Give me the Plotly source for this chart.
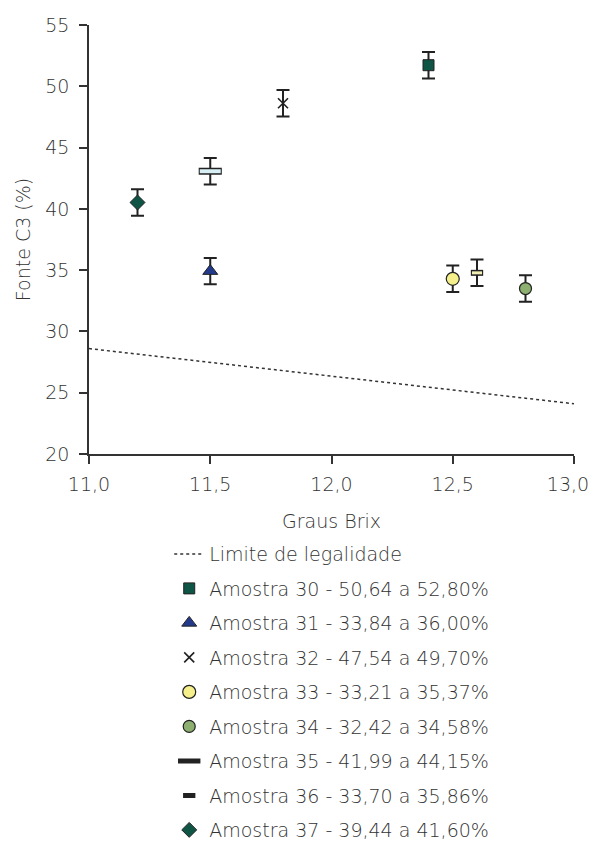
import plotly.graph_objects as go

# ---- data ----
sample_names = [
    "Amostra 30 - 50,64 a 52,80%",
    "Amostra 31 - 33,84 a 36,00%",
    "Amostra 32 - 47,54 a 49,70%",
    "Amostra 33 - 33,21 a 35,37%",
    "Amostra 34 - 32,42 a 34,58%",
    "Amostra 35 - 41,99 a 44,15%",
    "Amostra 36 - 33,70 a 35,86%",
    "Amostra 37 - 39,44 a 41,60%",
]
brix = [12.4, 11.5, 11.8, 12.5, 12.8, 11.5, 12.6, 11.2]
c3 = [51.72, 34.92, 48.62, 34.29, 33.50, 43.07, 34.78, 40.52]
c3_err = [1.08, 1.08, 1.08, 1.08, 1.08, 1.08, 1.08, 1.08]

limit_name = "Limite de legalidade"
limit_x = [11.0, 13.0]
limit_y = [28.6, 24.1]

x_ticks = [11.0, 11.5, 12.0, 12.5, 13.0]
# last label padded with no-break spaces so it stays inside the page edge
x_tick_labels = ["11,0", "11,5", "12,0", "12,5", "13,0\u00a0\u00a0"]
y_ticks = [20, 25, 30, 35, 40, 45, 50, 55]

# ---- styles ----
INK = "#222222"
TXT = "#333333"
FONT = "DejaVu Sans"
styles = [
    dict(symbol="square", size=11, color="#0f5546", line=dict(color=INK, width=1)),
    dict(symbol="triangle-up", size=13, color="#233a8c", line=dict(color=INK, width=1)),
    dict(symbol="x-thin-open", size=10, color=INK, line=dict(color=INK, width=1.6)),
    dict(symbol="circle", size=13, color="#f6f08c", line=dict(color=INK, width=1.2)),
    dict(symbol="circle", size=12, color="#8db070", line=dict(color=INK, width=1.2)),
    "rect_big",
    "rect_small",
    dict(symbol="diamond", size=11.5, color="#0f5546", line=dict(color=INK, width=1)),
]
rect_specs = {
    "rect_big": dict(outer_size=16.5, outer_w=7, inner_size=15, inner_w=4, fill="#d6eef4"),
    "rect_small": dict(outer_size=8.8, outer_w=6, inner_size=7.2, inner_w=3, fill="#f3eeb4"),
}

fig = go.Figure()

fig.add_trace(go.Scatter(
    x=limit_x, y=limit_y, mode="lines", name=limit_name,
    line=dict(color=TXT, width=1.5, dash="dot"),
    legendgroup="lim",
))

for i, name in enumerate(sample_names):
    st = styles[i]
    err = dict(type="data", array=[c3_err[i]], visible=True,
               color=INK, thickness=2, width=6.5)
    if isinstance(st, str):
        rs = rect_specs[st]
        fig.add_trace(go.Scatter(
            x=[brix[i]], y=[c3[i]], mode="markers", name=name,
            legendgroup=f"g{i}", showlegend=True,
            error_y=err,
            marker=dict(symbol="line-ew", size=rs["outer_size"], color=INK,
                        line=dict(color=INK, width=rs["outer_w"])),
        ))
        fig.add_trace(go.Scatter(
            x=[brix[i]], y=[c3[i]], mode="markers", name=name,
            legendgroup=f"g{i}", showlegend=False,
            marker=dict(symbol="line-ew", size=rs["inner_size"], color=rs["fill"],
                        line=dict(color=rs["fill"], width=rs["inner_w"])),
        ))
    else:
        fig.add_trace(go.Scatter(
            x=[brix[i]], y=[c3[i]], mode="markers", name=name,
            legendgroup=f"g{i}", error_y=err, marker=st,
        ))

# page body has an 8px default margin: size and margins below compensate for it
fig.update_layout(
    width=590, height=833,
    margin=dict(l=81, r=24, t=17, b=387, autoexpand=False),
    paper_bgcolor="white", plot_bgcolor="white",
    font=dict(family=FONT, size=19, color=TXT, weight=300),
    showlegend=True,
    legend=dict(
        orientation="v", xref="paper", x=0.1654, xanchor="left",
        yref="container", y=0.3673, yanchor="top",
        font=dict(family=FONT, size=19, color=TXT, weight=300),
        tracegroupgap=6.8, itemwidth=30, bgcolor="rgba(0,0,0,0)",
    ),
)
fig.update_xaxes(
    range=[11, 13], tickmode="array", tickvals=x_ticks, ticktext=x_tick_labels,
    ticks="outside", ticklen=8, tickcolor=TXT, tickwidth=1.5,
    showline=True, linecolor=TXT, linewidth=1.5,
    showgrid=False, zeroline=False, ticklabelstandoff=4,
    ticklabeloverflow="allow",
    title=dict(text="Graus Brix", font=dict(size=19, color=TXT, family=FONT, weight=300), standoff=21),
    tickfont=dict(size=19, color=TXT, family=FONT, weight=300),
)
fig.update_yaxes(
    range=[20, 55], tickvals=y_ticks,
    ticks="outside", ticklen=8, tickcolor=TXT, tickwidth=1.5,
    showline=True, linecolor=TXT, linewidth=1.5,
    showgrid=False, zeroline=False, ticklabelstandoff=6,
    title=dict(text="Fonte C3 (%)", font=dict(size=19, color=TXT, family=FONT, weight=300), standoff=10),
    tickfont=dict(size=19, color=TXT, family=FONT, weight=300),
)

fig.write_html("out.html")
